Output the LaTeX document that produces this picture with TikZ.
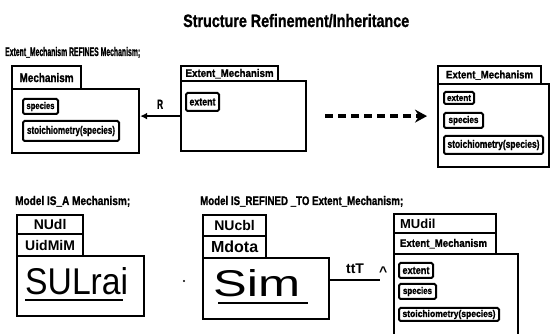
\documentclass[tikz,border=0pt]{standalone}
\usepackage{fontspec}
\setmainfont{Liberation Sans}
\newfontfamily\heavyfont{Liberation Sans}[BoldFeatures={FakeBold=1.2}]
\usepackage{graphicx}
\usetikzlibrary{arrows.meta}

% squeezed bold label: width, height, text
\newcommand{\cnd}[3]{\resizebox{#1pt}{#2pt}{\heavyfont\bfseries #3}}

\begin{document}
\begin{tikzpicture}[x=1pt,y=-1pt,line join=miter,
    boxbody/.style={draw,line width=2.2pt,inner sep=0pt,anchor=north west},
    boxtab/.style={draw,line width=2.2pt,inner sep=0pt,anchor=north west,fill=white},
    attrbox/.style={draw,line width=2pt,rounded corners=1.5pt,inner sep=0pt,anchor=north west,fill=white},
    heading/.style={anchor=base west,inner sep=0pt},
    assoc/.style={line width=2pt,-{Latex[length=7pt,width=7pt]}},
    refine/.style={line width=4pt,dash pattern=on 8pt off 5pt,-{Stealth[length=12pt,width=13pt,inset=4pt]},
                   shorten <=18pt,shorten >=10pt},
    tabfont/.style={font=\bfseries\fontsize{14}{14}\selectfont}]
  \useasboundingbox (0,0) rectangle (550,334);

  \node[heading] (title)   at (183,27)  {\cnd{226}{13}{Structure Refinement/Inheritance}};
  \node[heading] (refines) at (5,56)    {\cnd{135}{9}{Extent\_Mechanism REFINES Mechanism;}};

  % Mechanism
  \node[boxbody,minimum width=127pt,minimum height=64pt] (mechbox) at (11,88) {};
  \node[boxtab,minimum width=69pt,minimum height=23pt]   (mechtab) at (11,65) {\cnd{54}{9}{Mechanism}};
  \node[attrbox,minimum width=35pt,minimum height=15pt]  (mechspec) at (22,98)  {\cnd{28}{7}{species}};
  \node[attrbox,minimum width=96pt,minimum height=20pt]  (mechstoi) at (22,120) {\cnd{88}{8}{stoichiometry(species)}};

  % Extent_Mechanism
  \node[boxbody,minimum width=125pt,minimum height=70pt] (extbox) at (180,80) {};
  \node[boxtab,minimum width=97pt,minimum height=15pt]   (exttab) at (180,65) {\cnd{88}{8}{Extent\_Mechanism}};
  \node[attrbox,minimum width=33pt,minimum height=18pt]  (extext) at (185,92) {\cnd{26}{7}{extent}};

  % refined result
  \node[boxbody,minimum width=111pt,minimum height=83pt] (refbox) at (437,83) {};
  \node[boxtab,minimum width=103pt,minimum height=18pt]  (reftab) at (437,65) {\cnd{87}{8}{Extent\_Mechanism}};
  \node[attrbox,minimum width=30pt,minimum height=12pt]  (refext)  at (443,91)  {\cnd{24}{6}{extent}};
  \node[attrbox,minimum width=39pt,minimum height=15pt]  (refspec) at (443,112) {\cnd{30}{7}{species}};
  \node[attrbox,minimum width=99pt,minimum height=18pt]  (refstoi) at (443,135) {\cnd{92}{8}{stoichiometry(species)}};

  \draw[assoc] (extbox.west) -- node[above=3pt] {\cnd{6}{9}{R}} (extbox.west -| mechbox.east);
  \draw[refine] (extbox.east) -- (extbox.east -| refbox.west);

  % Model IS_A
  \node[heading] (isahead) at (15,205) {\cnd{115}{9}{Model IS\_A Mechanism;}};
  \node[boxbody,minimum width=127pt,minimum height=60pt] (modbox)  at (16,255) {};
  \node[boxtab,tabfont,minimum width=66pt,minimum height=19pt] (modtab1) at (16,214) {NUdl};
  \node[boxtab,tabfont,minimum width=66pt,minimum height=22pt] (modtab2) at (16,233) {UidMiM};
  \node[heading] (modname) at (25,295) {\resizebox{103pt}{27pt}{SULrai}};
  \draw[line width=1.8pt] ([yshift=-5pt]modname.base west) -- ([xshift=-5pt,yshift=-5pt]modname.base east);

  \fill (184,281) circle (1.2pt);

  % Model IS_REFINED_TO
  \node[heading] (refhead) at (200,205) {\cnd{203}{9}{Model IS\_REFINED \_TO Extent\_Mechanism;}};
  \node[boxbody,minimum width=126pt,minimum height=61pt] (simbox)  at (202,257) {};
  \node[boxtab,tabfont,minimum width=63pt,minimum height=21pt] (simtab1) at (202,214) {NUcbl};
  \node[boxtab,tabfont,font=\bfseries\fontsize{16}{16}\selectfont,minimum width=63pt,minimum height=22pt]
       (simtab2) at (202,235) {Mdota};
  \node[heading] (simname) at (213,297) {\resizebox{87pt}{27pt}{Sim}};
  \draw[line width=1.8pt] ([xshift=5pt,yshift=-6pt]simname.base west) -- ([xshift=8pt,yshift=-6pt]simname.base east);

  \node[boxbody,minimum width=124pt,minimum height=95pt] (subbox) at (393,253) {};
  \node[boxtab,font=\bfseries\fontsize{13}{13}\selectfont,minimum width=102pt,minimum height=19pt]
       (subtab1) at (393,213) {\makebox[90pt][l]{MUdil}};
  \node[boxtab,minimum width=102pt,minimum height=21pt] (subtab2) at (393,232) {\makebox[90pt][l]{\cnd{87}{8}{Extent\_Mechanism}}};
  \node[attrbox,minimum width=34pt,minimum height=15pt]  (subext)  at (398,262) {\cnd{27}{7}{extent}};
  \node[attrbox,minimum width=37pt,minimum height=15pt]  (subspec) at (398,283) {\cnd{29}{7}{species}};
  \node[attrbox,minimum width=100pt,minimum height=13pt] (substoi) at (398,307) {\cnd{93}{7}{stoichiometry(species)}};

  \coordinate (ttend) at (380,280);
  \draw[line width=2pt] (ttend -| simbox.east) -- node[above=2pt,tabfont] {ttT} (ttend);
  \node[anchor=south west,inner sep=0pt,tabfont] (caret) at (379,277) {\textasciicircum};
\end{tikzpicture}
\end{document}
